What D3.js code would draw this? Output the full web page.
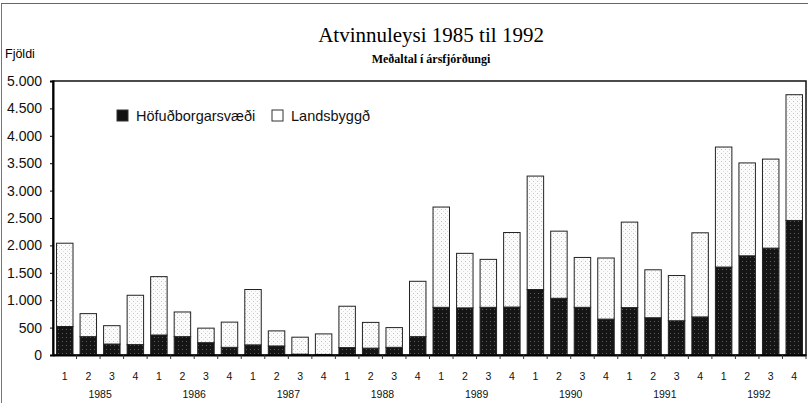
<!DOCTYPE html>
<html>
<head>
<meta charset="utf-8">
<script src="https://cdn.jsdelivr.net/npm/d3@7"></script>
<style>
  body { margin: 0; background: #fff; }
  svg { display: block; }
</style>
</head>
<body>
<script>
var width = 811, height = 403;

// data: average unemployment per quarter
const years = [1985, 1986, 1987, 1988, 1989, 1990, 1991, 1992];
const quarters = ["1", "2", "3", "4"];
const hofud = [520, 335, 200, 190, 365, 335, 225, 140, 185, 165, 15, 10, 135, 125, 140, 335,
               870, 860, 870, 875, 1195, 1035, 870, 655, 865, 680, 625, 695, 1605, 1810, 1950, 2455];
const lands = [1520, 420, 335, 900, 1065, 450, 265, 460, 1010, 275, 310, 375, 755, 470, 360, 1010,
               1830, 995, 875, 1360, 2070, 1225, 910, 1115, 1560, 875, 825, 1535, 2190, 1695, 1625, 2295];
const yTicks = [0, 500, 1000, 1500, 2000, 2500, 3000, 3500, 4000, 4500, 5000];
const seriesNames = ["Höfuðborgarsvæði", "Landsbyggð"];

var rows = [];
years.forEach((y, i) => quarters.forEach((q, j) => {
  var k = i * 4 + j;
  rows.push({ key: y + "-" + q, year: y, q: q, hofud: hofud[k], lands: lands[k] });
}));

const margin = { left: 53, right: 5, top: 81, bottom: 48 };

var x = d3.scaleBand()
  .domain(rows.map(d => d.key))
  .range([margin.left, width - margin.right])
  .paddingInner(0.3).paddingOuter(0.15);

var y = d3.scaleLinear().domain([0, 5000]).range([height - margin.bottom, margin.top]);

var loc = d3.formatLocale({ decimal: ",", thousands: ".", grouping: [3], currency: ["", ""] });
var fmt = loc.format(",");

var svg = d3.select("body").append("svg")
  .attr("width", width).attr("height", height);

// stipple patterns
var defs = svg.append("defs");
var pl = defs.append("pattern").attr("id", "light").attr("patternUnits", "userSpaceOnUse")
  .attr("width", 4).attr("height", 4);
pl.append("rect").attr("width", 4).attr("height", 4).attr("fill", "#fbfbfb");
pl.append("rect").attr("x", 1).attr("y", 1).attr("width", 1).attr("height", 1).attr("fill", "#c4c4c4");
pl.append("rect").attr("x", 3).attr("y", 3).attr("width", 1).attr("height", 1).attr("fill", "#dcdcdc");

var pd = defs.append("pattern").attr("id", "dark").attr("patternUnits", "userSpaceOnUse")
  .attr("width", 4).attr("height", 4);
pd.append("rect").attr("width", 4).attr("height", 4).attr("fill", "#151515");
pd.append("rect").attr("x", 2).attr("y", 1).attr("width", 1).attr("height", 1).attr("fill", "#5a5a5a");

// page frame lines
svg.append("line").attr("x1", 1.5).attr("x2", 1.5).attr("y1", 3).attr("y2", height)
  .attr("stroke", "#777").attr("stroke-width", 1);
svg.append("line").attr("x1", 1).attr("x2", width - 3).attr("y1", 3.5).attr("y2", 3.5)
  .attr("stroke", "#666").attr("stroke-width", 1);

// titles
svg.append("text").attr("x", 431).attr("y", 42)
  .attr("text-anchor", "middle")
  .style("font-family", "'Liberation Serif', 'Times New Roman', serif")
  .style("font-size", "21px")
  .text("Atvinnuleysi 1985 til 1992");
svg.append("text").attr("x", 431).attr("y", 63)
  .attr("text-anchor", "middle")
  .style("font-family", "'Liberation Serif', 'Times New Roman', serif")
  .style("font-size", "12px").style("font-weight", "bold")
  .text("Meðaltal í ársfjórðungi");
svg.append("text").attr("x", 5).attr("y", 58)
  .style("font-family", "'Liberation Sans', Arial, sans-serif")
  .style("font-size", "12.5px")
  .text("Fjöldi");

// stacked bars
var stack = d3.stack().keys(["hofud", "lands"]);
var layers = stack(rows);
var fills = ["url(#dark)", "url(#light)"];

var g = svg.append("g");
g.selectAll("g.layer")
  .data(layers)
  .enter().append("g")
  .attr("class", "layer")
  .attr("fill", (d, i) => fills[i])
  .selectAll("rect")
  .data(d => d)
  .enter().append("rect")
  .attr("x", d => x(d.data.key))
  .attr("width", x.bandwidth())
  .attr("y", d => y(d[1]))
  .attr("height", d => y(d[0]) - y(d[1]))
  .attr("stroke", "#222")
  .attr("stroke-width", 1);

// plot frame
svg.append("rect")
  .attr("x", margin.left).attr("y", margin.top)
  .attr("width", width - margin.right - margin.left)
  .attr("height", y(0) - margin.top)
  .attr("fill", "none").attr("stroke", "#111").attr("stroke-width", 1.5);

// y axis
var yAxis = svg.append("g")
  .attr("transform", "translate(" + margin.left + ",0)")
  .call(d3.axisLeft(y).tickValues(yTicks).tickFormat(fmt).tickSize(3).tickPadding(8));
yAxis.select(".domain").attr("stroke-width", 2);
yAxis.selectAll("text")
  .style("font-family", "'Liberation Sans', Arial, sans-serif")
  .style("font-size", "14px").attr("fill", "#111");

// x axis
var xAxis = svg.append("g")
  .attr("transform", "translate(0," + y(0) + ")")
  .call(d3.axisBottom(x).tickFormat(k => k.split("-")[1]).tickSize(0).tickPadding(18));
xAxis.select(".domain").attr("stroke-width", 2);
xAxis.selectAll("text")
  .style("font-family", "'Liberation Sans', Arial, sans-serif")
  .style("font-size", "10.5px").attr("fill", "#111");
// small tick marks between bars
xAxis.selectAll("line.sep")
  .data(rows)
  .enter().append("line")
  .attr("class", "sep")
  .attr("x1", d => x(d.key) + x.bandwidth() + x.step() * x.paddingInner() / 2)
  .attr("x2", d => x(d.key) + x.bandwidth() + x.step() * x.paddingInner() / 2)
  .attr("y1", 0).attr("y2", 4)
  .attr("stroke", "#333");

// year labels
svg.append("g").selectAll("text")
  .data(years)
  .enter().append("text")
  .attr("x", yr => (x(yr + "-2") + x(yr + "-3") + x.bandwidth()) / 2)
  .attr("y", 398)
  .attr("text-anchor", "middle")
  .style("font-family", "'Liberation Sans', Arial, sans-serif")
  .style("font-size", "10.5px").attr("fill", "#111")
  .text(d => d);

// legend
var legend = svg.append("g").attr("transform", "translate(117,110)");
seriesNames.forEach((name, i) => {
  var lx = i === 0 ? 0 : 155;
  legend.append("rect").attr("x", lx).attr("y", 0).attr("width", 11).attr("height", 11)
    .attr("fill", i === 0 ? "#111" : "#fff").attr("stroke", "#333");
  legend.append("text").attr("x", lx + 19).attr("y", 11)
    .style("font-family", "'Liberation Sans', Arial, sans-serif")
    .style("font-size", "14.5px").attr("fill", "#111")
    .text(name);
});
</script>
</body>
</html>
